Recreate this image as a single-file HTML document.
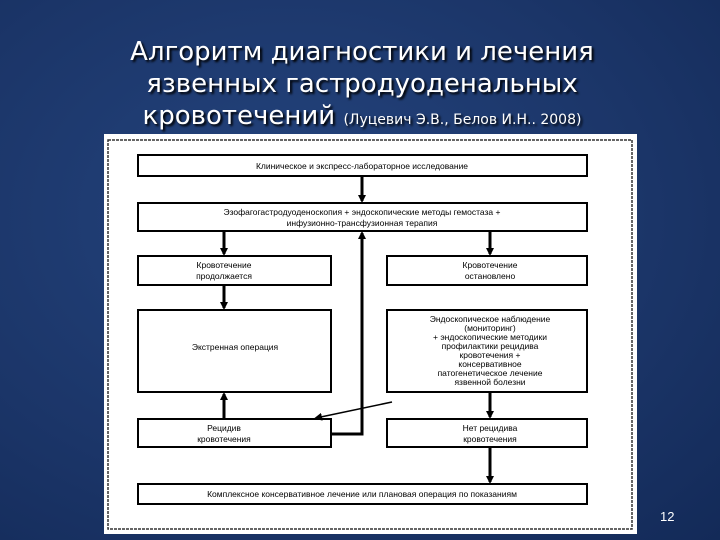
<!DOCTYPE html>
<html><head><meta charset="utf-8"><style>
body{margin:0;width:720px;height:540px;overflow:hidden;background:radial-gradient(ellipse at 40% 40%,#24447e,#1b3568 60%,#132a58);font-family:"Liberation Sans",sans-serif;position:relative}
.t{position:absolute;left:0;width:724px;text-align:center;color:#fff;font-family:"DejaVu Sans",sans-serif;font-size:26px;line-height:32px;text-shadow:2px 2px 2px #000}
.sm{font-size:14px}
.n{position:absolute;left:660px;top:509px;color:#fff;font-size:13px}
</style></head><body>
<div class="t" style="top:36px">Алгоритм диагностики и лечения<br>язвенных гастродуоденальных<br>кровотечений <span class="sm">(Луцевич Э.В., Белов И.Н.. 2008)</span></div>
<svg style="position:absolute;left:0;top:0" width="720" height="540" font-family="Liberation Sans, sans-serif" font-size="8.5" text-anchor="middle">
<defs><marker id="a" markerWidth="8" markerHeight="8" refX="6" refY="4" orient="auto" markerUnits="userSpaceOnUse"><path d="M0,0L8,4L0,8z" fill="#000"/></marker></defs>
<rect x="104" y="134" width="533" height="400" fill="#fff"/>
<rect x="108" y="140" width="524" height="389" fill="none" stroke="#333" stroke-width="1.5" stroke-dasharray="3,1"/>
<g fill="none" stroke="#000" stroke-width="2">
<rect x="138" y="155" width="449" height="21"/>
<rect x="138" y="203" width="449" height="28"/>
<rect x="138" y="256" width="193" height="29"/>
<rect x="387" y="256" width="200" height="29"/>
<rect x="138" y="310" width="193" height="82"/>
<rect x="387" y="310" width="200" height="82"/>
<rect x="138" y="419" width="193" height="28"/>
<rect x="387" y="419" width="200" height="28"/>
<rect x="138" y="484" width="449" height="20"/>
<g stroke-width="3" marker-end="url(#a)">
<line x1="362" y1="176" x2="362" y2="201"/>
<line x1="224" y1="231" x2="224" y2="254"/>
<line x1="490" y1="231" x2="490" y2="254"/>
<line x1="224" y1="285" x2="224" y2="308"/>
<line x1="224" y1="419" x2="224" y2="394"/>
<line x1="490" y1="392" x2="490" y2="417"/>
<line x1="490" y1="447" x2="490" y2="482"/>
<polyline points="331,434 362,434 362,233"/>
</g>
<line x1="392" y1="402" x2="316" y2="418" stroke-width="1.5" marker-end="url(#a)"/>
</g>
<g fill="#000">
<text x="362" y="169">Клиническое и экспресс-лабораторное исследование</text>
<text x="362" y="215">Эзофагогастродуоденоскопия + эндоскопические методы гемостаза +</text>
<text x="362" y="226">инфузионно-трансфузионная терапия</text>
<text x="224" y="268">Кровотечение</text><text x="224" y="279">продолжается</text>
<text x="490" y="268">Кровотечение</text><text x="490" y="279">остановлено</text>
<text x="235" y="350">Экстренная операция</text>
<text x="490" y="322">Эндоскопическое наблюдение</text>
<text x="490" y="331">(мониторинг)</text>
<text x="490" y="340">+ эндоскопические методики</text>
<text x="490" y="349">профилактики рецидива</text>
<text x="490" y="358">кровотечения +</text>
<text x="490" y="367">консервативное</text>
<text x="490" y="376">патогенетическое лечение</text>
<text x="490" y="385">язвенной болезни</text>
<text x="224" y="431">Рецидив</text><text x="224" y="442">кровотечения</text>
<text x="490" y="431">Нет рецидива</text><text x="490" y="442">кровотечения</text>
<text x="362" y="497">Комплексное консервативное лечение или плановая операция по показаниям</text>
</g>
</svg>
<div class="n">12</div>
</body></html>
